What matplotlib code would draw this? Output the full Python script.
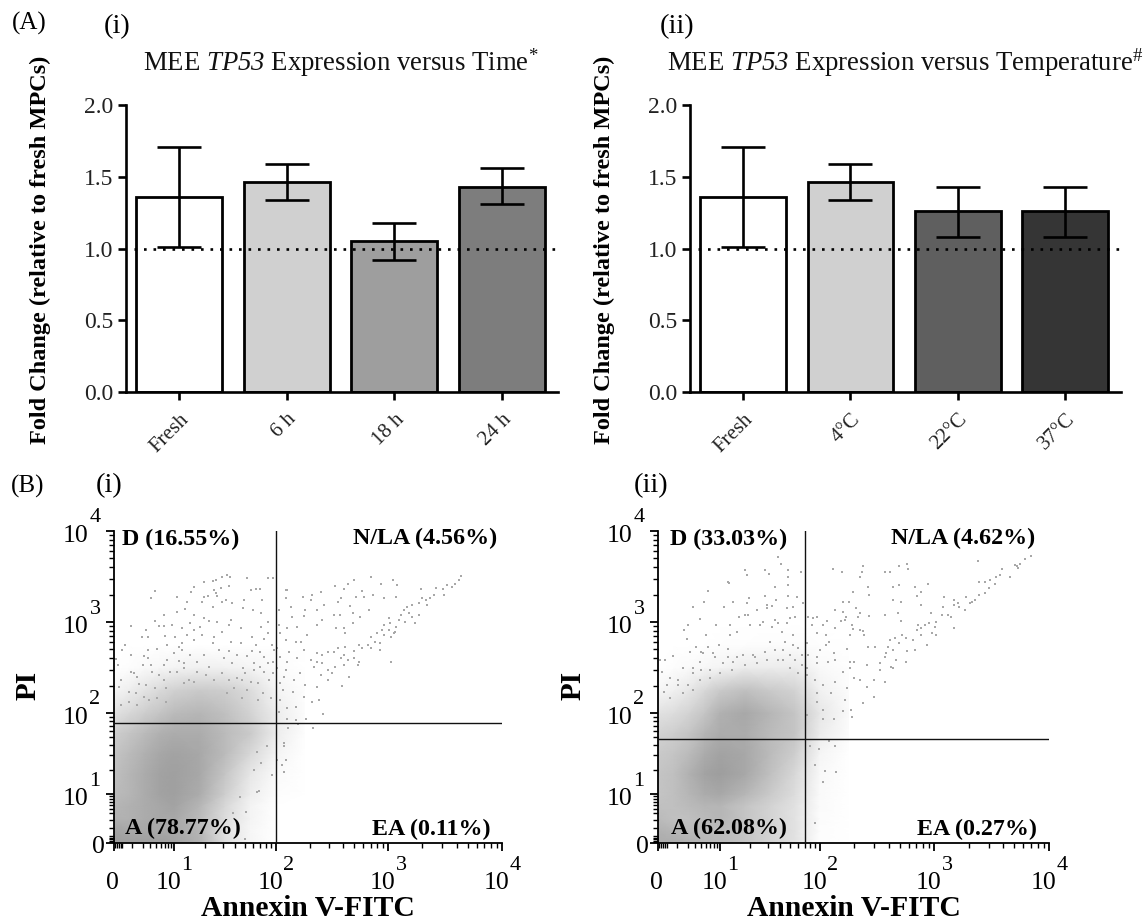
import numpy as np
import matplotlib
matplotlib.use('Agg')
import matplotlib.pyplot as plt
from matplotlib.colors import LinearSegmentedColormap

plt.rcParams['font.family'] = ['Liberation Serif', 'DejaVu Serif']
plt.rcParams['mathtext.fontset'] = 'custom'
plt.rcParams['mathtext.rm'] = 'Liberation Serif'
plt.rcParams['mathtext.it'] = 'Liberation Serif:italic'
plt.rcParams['mathtext.cal'] = 'Liberation Serif:italic'

time_labels = ['Fresh', '6 h', '18 h', '24 h']
time_means = [1.36, 1.46, 1.05, 1.43]
time_low = [1.01, 1.34, 0.92, 1.31]
time_high = [1.71, 1.59, 1.18, 1.56]
time_colors = ['#ffffff', '#d0d0d0', '#9e9e9e', '#7d7d7d']

temp_labels = ['Fresh', '4°C', '22°C', '37°C']
temp_means = [1.36, 1.46, 1.26, 1.26]
temp_low = [1.01, 1.34, 1.08, 1.08]
temp_high = [1.71, 1.59, 1.43, 1.43]
temp_colors = ['#ffffff', '#d0d0d0', '#5f5f5f', '#353535']

# flow plots: values are log10 of intensity
grid_x = [0, .25, .5, .75, 1, 1.25, 1.5, 1.75, 2, 2.25]
grid_y = [0, .25, .5, .75, 1, 1.25, 1.5, 1.75, 2, 2.25, 2.5, 2.75, 3]

# estimated share of each spot covered by dots, where they are too many to read one by one
cover_i = [
    [1, 1, 1, 1, .95, .8, .35, .1, 0, 0],
    [.95, .9, .9, .9, .9, .75, .3, .08, 0, 0],
    [.8, .8, .85, .9, .9, .7, .35, .12, 0, 0],
    [.75, .8, .85, .9, .95, .75, .4, .12, 0, 0],
    [.7, .75, .85, .95, .98, .85, .5, .18, .02, 0],
    [.65, .75, .85, .95, .98, .9, .6, .25, .05, 0],
    [.6, .7, .8, .9, .95, .9, .7, .4, .12, 0],
    [.5, .6, .7, .8, .85, .85, .7, .55, .2, .02],
    [.3, .4, .5, .6, .7, .75, .65, .45, .2, .03],
    [.1, .18, .28, .38, .48, .55, .5, .36, .12, .02],
    [0, .02, .05, .08, .12, .16, .15, .12, .04, 0],
    [0, 0, 0, 0, 0, 0, 0, 0, 0, 0],
    [0, 0, 0, 0, 0, 0, 0, 0, 0, 0],
]
cover_ii = [
    [.85, .85, .8, .75, .7, .6, .45, .3, .02, 0],
    [.8, .75, .7, .7, .7, .6, .45, .3, .02, 0],
    [.7, .65, .65, .7, .75, .6, .45, .3, .03, 0],
    [.65, .65, .7, .75, .75, .6, .45, .3, .04, 0],
    [.6, .65, .75, .85, .9, .75, .55, .35, .05, 0],
    [.6, .65, .8, .95, 1, .9, .65, .4, .06, 0],
    [.55, .6, .7, .85, .95, .9, .7, .5, .1, 0],
    [.45, .5, .6, .75, .85, .85, .7, .6, .2, .03],
    [.3, .35, .45, .6, .8, .9, .75, .6, .25, .05],
    [.08, .15, .25, .4, .55, .65, .55, .45, .15, .03],
    [0, .02, .05, .08, .12, .2, .2, .2, .06, .01],
    [0, 0, 0, 0, .01, .02, .03, .03, .01, 0],
    [0, 0, 0, 0, 0, 0, 0, 0, 0, 0],
]

# single dots of the sparse part
dots_i = [
    (1.52,3.52),(1.55,3.49),(1.47,3.50),(1.41,3.46),(1.38,3.45),(1.29,3.44),(1.20,3.38),(1.17,3.33),(.69,3.34),(.62,3.26),
    (1.03,3.27),(1.39,3.35),(1.41,3.32),(1.46,3.37),(1.54,3.40),(1.72,3.48),(1.92,3.48),(1.97,3.48),(1.75,3.35),(1.80,3.36),
    (1.84,3.36),(1.69,3.24),(1.86,3.24),(1.51,3.24),(1.29,3.27),(1.33,3.29),(1.42,3.29),(1.27,3.22),(1.57,3.21),(1.47,3.22),
    (1.38,3.16),(1.13,3.22),(1.03,3.11),(1.11,3.14),(.83,3.08),(1.20,3.08),(1.29,3.04),(1.68,3.15),(1.77,3.13),(1.85,3.10),
    (1.56,3.02),(1.42,3.0),(1.34,3.01),(1.16,2.99),(.96,2.97),(.69,3.01),(.29,2.96),(.75,2.96),(.83,2.96),(1.85,2.95),
    (1.92,3.0),(1.54,2.97),(1.66,2.93),(1.25,2.95),(.53,2.91),(1.08,2.93),(1.20,2.91),(1.47,2.89),(.47,2.84),(.56,2.84),
    (.85,2.85),(1.01,2.84),(1.13,2.86),(1.27,2.86),(1.39,2.84),(1.76,2.83),(1.92,2.88),(1.88,2.81),(1.08,2.77),(1.2,2.80),
    (1.56,2.78),(1.66,2.77),(.19,2.75),(.89,2.75),(1.05,2.73),(1.38,2.77),(1.80,2.75),(1.96,2.75),(.14,2.69),(.56,2.69),
    (.72,2.70),(1.08,2.69),(1.29,2.64),(1.44,2.69),(1.54,2.68),(1.76,2.68),(1.84,2.67),(1.98,2.69),(.29,2.64),(.5,2.63),
    (1.0,2.66),(1.16,2.64),(1.62,2.64),(1.72,2.63),(1.88,2.62),(.03,2.59),(.56,2.6),(.89,2.58),(1.05,2.57),(1.34,2.51),
    (1.49,2.6),(1.78,2.55),(1.92,2.55),(1.97,2.56),(.06,2.53),(.49,2.53),(.61,2.53),(.83,2.53),(1.1,2.55),(1.23,2.56),
    (1.57,2.55),(1.68,2.49),(1.84,2.51),
    (.33,2.44),(.28,2.45),(.39,2.4),(.11,2.36),(.08,2.29),(.42,2.32),(.53,2.31),(.64,2.45),(.75,2.42),(.83,2.36),
    (.69,2.27),(.86,2.27),(.25,2.23),(.36,2.22),(.5,2.18),(.58,2.14),(.11,2.09),(.25,2.12),(.39,2.09),(.94,2.45),
    (1.03,2.45),(1.1,2.49),(1.15,2.36),(1.23,2.45),(1.31,2.42),(1.39,2.36),(1.47,2.44),(1.54,2.36),(1.62,2.38),(1.67,2.36),
    (1.75,2.34),(1.82,2.33),(1.93,2.36),(1.88,2.45),(1.78,2.47),(1.7,2.44),(1.97,2.44),(1.59,2.27),(1.72,2.25),(1.87,2.22),
    (1.95,2.16),(1.82,2.14),(1.67,2.16),(1.52,2.22),(1.1,2.33),(1.2,2.34),(.72,2.16),(.86,2.12),
    (3.64,3.51),(3.62,3.46),(3.59,3.42),(3.56,3.39),(3.52,3.41),(3.48,3.36),(3.49,3.30),(3.42,3.37),(3.40,3.30),(3.37,3.26),
    (3.33,3.24),(3.30,3.26),(3.34,3.19),(3.27,3.21),(3.21,3.19),(3.17,3.17),(3.14,3.13),(3.18,3.10),(3.11,3.08),(3.10,3.02),
    (3.15,3.0),(3.24,2.99),(3.21,3.06),(3.27,3.08),(3.01,3.04),(2.96,2.97),(3.02,2.99),(3.07,2.95),(2.95,2.91),(3.01,2.91),
    (2.90,2.88),(2.85,2.84),(2.96,2.86),(3.05,2.88),(3.06,2.89),(3.03,2.84),(2.88,2.78),(2.93,2.77),(2.82,2.75),(2.74,2.75),
    (2.77,2.71),(2.70,2.68),(2.62,2.73),(2.55,2.71),(2.52,2.67),(2.61,2.64),(2.70,2.6),(2.74,2.56),(2.64,2.58),(2.58,2.6),
    (2.53,2.51),(2.46,2.47),(2.50,2.44),(2.61,2.53),(2.85,2.71),(2.93,2.69),(2.73,2.53),(3.03,2.56),(2.65,2.4),(2.41,2.55),
    (2.37,2.56),(2.85,3.5),(2.70,3.46),(3.04,3.46),(2.53,3.4),(2.64,3.42),(2.94,3.42),(3.08,3.41),(3.29,3.36),(2.61,3.36),
    (2.77,3.34),(2.40,3.33),(2.32,3.30),(2.09,3.35),(2.10,3.35),(2.87,3.30),(2.24,3.27),(2.58,3.26),(2.71,3.27),(2.79,3.27),
    (2.96,3.26),(3.07,3.27),(2.09,3.26),(2.31,3.24),(2.55,3.22),(2.66,3.18),(2.43,3.19),(2.13,3.17),(2.03,3.13),(2.26,3.13),
    (2.83,3.13),(2.37,3.13),(2.52,3.08),(2.57,3.08),(2.69,3.1),(2.14,3.05),(2.25,3.07),(2.41,3.02),(2.75,3.06),(2.03,2.97),
    (2.10,2.93),(2.19,2.95),(2.37,2.97),(2.69,2.99),(2.54,2.93),(2.61,2.93),(2.04,2.88),(2.28,2.86),(2.62,2.88),(2.09,2.8),
    (2.18,2.78),(2.22,2.78),(2.01,2.71),(2.25,2.69),(2.12,2.67),(2.37,2.66),(2.46,2.67),(2.04,2.62),(2.19,2.6),(2.41,2.64),
    (2.10,2.56),(2.31,2.58),(2.01,2.49),(2.09,2.47),(2.34,2.51),(2.21,2.44),(2.07,2.4),(2.40,2.42),(2.16,2.36),(2.04,2.33),
    (2.26,2.31),(2.37,2.29),(2.06,2.25),(2.15,2.23),(2.59,2.3),(2.46,2.36),(2.25,2.18),(2.38,2.14),(2.32,2.12),(2.18,2.07),
    (2.04,2.14),(2.10,2.05),(2.27,1.93),(2.42,1.99),(2.10,1.92),(2.18,1.91),(2.03,2.01),(2.07,1.63),(2.07,1.59),(2.01,1.42),
    (2.09,1.42),(2.05,1.36),(2.07,1.27),(2.11,1.81),(2.20,1.86),(2.33,1.81),
    (1.81,1.03),(1.83,1.04),(1.65,.93),(1.71,.64),(1.58,.61),(1.70,.09),(1.96,1.24),(1.85,1.38),(1.91,1.59),(1.81,1.52),(1.78,1.30),
]
dots_ii = [
    (3.84,3.73),(3.79,3.69),(3.75,3.64),(3.72,3.61),(3.70,3.63),(3.73,3.59),(3.66,3.5),(3.59,3.58),(3.57,3.52),(3.54,3.5),
    (3.53,3.42),(3.49,3.46),(3.44,3.44),(3.39,3.44),(3.44,3.32),(3.48,3.37),(3.39,3.30),(3.36,3.24),(3.31,3.21),(3.28,3.28),
    (3.33,3.22),(3.27,3.13),(3.21,3.21),(3.22,3.17),(3.17,3.24),(3.17,3.19),(3.08,3.17),(3.12,3.08),(3.15,3.06),(3.07,3.08),
    (3.17,2.93),(3.02,3.0),(3.01,2.95),(2.96,2.99),(2.92,2.97),(2.98,2.88),(3.02,2.86),(2.89,2.93),(2.86,2.97),(2.85,2.91),
    (2.89,2.86),(2.82,2.8),(2.75,2.82),(2.72,2.86),(2.66,2.82),(2.61,2.8),(2.69,2.77),(2.60,2.73),(2.58,2.66),(2.64,2.69),
    (2.76,2.68),(2.83,2.69),(2.57,2.62),(2.94,2.75),(2.75,2.56),(2.64,2.49),(2.67,2.58),(2.53,2.55),(2.62,2.51),(2.48,2.73),
    (2.42,2.73),(2.41,2.53),(2.53,2.47),(2.57,2.34),(2.47,2.36),(2.41,2.29),(2.47,2.18),(2.38,2.11),
    (3.38,3.67),(2.11,3.58),(2.38,3.62),(2.37,3.55),(2.35,3.5),(2.19,3.55),(2.57,3.55),(2.61,3.55),(2.69,3.62),(2.76,3.64),
    (2.77,3.58),(2.95,3.42),(2.69,3.41),(2.64,3.38),(2.83,3.38),(2.42,3.38),(2.29,3.33),(2.43,3.3),(2.89,3.33),(2.85,3.29),
    (3.09,3.27),(2.64,3.24),(2.71,3.22),(2.89,3.19),(2.20,3.22),(2.25,3.22),(2.32,3.15),(2.13,3.13),(2.20,3.11),(2.35,3.1),
    (2.33,3.06),(2.43,3.07),(2.57,3.08),(2.68,3.1),(2.97,3.1),(2.23,3.06),(1.93,3.04),(1.88,3.06),(1.97,3.06),(2.06,3.01),
    (2.18,3.01),(2.22,3.02),(1.92,2.97),(2.13,2.93),(2.28,2.97),(2.71,3.01),(2.03,2.97),(2.29,2.92),(2.35,2.91),(2.38,2.9),
    (1.97,2.88),(2.05,2.86),(2.26,2.86),(2.39,2.86),(2.08,2.78),(2.05,2.75),(1.87,2.77),(2,2.69),(2.12,2.66),(2.24,2.7),
    (1.88,2.64),(1.97,2.62),(2.13,2.58),(2.26,2.56),(2.3,2.56),(1.97,2.55),(2.07,2.56),(2.2,2.45),(1.87,2.49),(2.26,2.49),
    (2.3,2.38),(2.35,2.36),(1.95,2.36),(2.13,2.34),(1.87,2.42),(2.24,2.27),(2.03,2.31),(1.97,2.22),(2.1,2.22),(2.22,2.14),
    (1.97,2.12),(2.27,2.03),(2.2,2.02),(2.03,2.03),(2.28,1.95),(1.87,1.98),(2.03,1.92),(2.12,1.92),
    (1.58,3.71),(1.61,3.64),(1.45,3.57),(1.49,3.53),(1.68,3.57),(1.25,3.57),(1.27,3.52),(1.81,3.55),(1.68,3.49),(1.68,3.41),
    (1.08,3.44),(1.09,3.43),(1.55,3.38),(.81,3.34),(1.45,3.29),(1.68,3.29),(1.77,3.28),(1.29,3.26),(1.56,3.24),(.74,3.22),
    (1.13,3.22),(1.27,3.21),(1.47,3.19),(1.52,3.18),(1.83,3.21),(.56,3.17),(1.04,3.16),(1.37,3.13),(1.47,3.15),(1.67,3.15),
    (1.73,3.17),(1.28,3.08),(1.25,3.08),(.68,3.03),(1.19,3.05),(1.55,3.02),(1.7,3.04),(1.75,3.05),(.49,2.97),(.94,2.97),
    (1.1,2.97),(1.43,3.0),(1.4,2.97),(1.58,2.99),(1.67,2.99),(.42,2.91),(1.1,2.86),(1.17,2.89),(1.3,2.97),(1.52,2.95),
    (1.62,2.89),(1.73,2.86),(.78,2.86),(.47,2.81),(1.5,2.78),(1.65,2.78),(.61,2.73),(.81,2.73),(.98,2.75),(1.08,2.7),
    (.7,2.67),(.89,2.66),(.52,2.67),(.24,2.63),(1.35,2.62),(1.23,2.64),(.03,2.58),(.11,2.58),(.68,2.56),(1.13,2.56),
    (.41,2.49),(.57,2.5),(.7,2.47),(.06,2.45),(.19,2.38),(.33,2.36),
    (.73,2.66),(.92,2.62),(1.08,2.62),(1.17,2.62),(1.33,2.64),(1.45,2.67),(1.55,2.69),(1.63,2.69),(1.73,2.75),(1.78,2.71),
    (1.7,2.64),(1.82,2.64),(1.58,2.58),(1.47,2.58),(1.37,2.55),(1.25,2.53),(1.03,2.55),(.84,2.47),(1,2.44),(1.12,2.47),
    (.57,2.44),(.49,2.31),(.33,2.31),(.68,2.36),(.84,2.38),(.14,2.31),(.09,2.23),(.41,2.22),(.19,2.16),(.57,2.25),
    (1.63,2.58),(1.75,2.58),(1.82,2.53),(1.7,2.49),(1.78,2.44),
    (1.90,1.59),(1.99,1.55),(2.08,1.65),(2.13,1.59),(1.95,1.36),(2.04,1.28),(2.14,1.27),(2.03,1.15),(1.95,.4),
]

gate_x = [2.0, 1.85]
gate_y = [1.876, 1.68]
quadrant_labels_i = ['D (16.55%)', 'N/LA (4.56%)', 'A (78.77%)', 'EA (0.11%)']
quadrant_labels_ii = ['D (33.03%)', 'N/LA (4.62%)', 'A (62.08%)', 'EA (0.27%)']

W, H = 1146, 924
fig = plt.figure(figsize=(W / 100, H / 100), dpi=100)
dot_cmap = LinearSegmentedColormap.from_list('dots', ['#ffffff', '#9e9e9e'])


def px_axes(left, top, right, bottom):
    return fig.add_axes([left / W, 1 - bottom / H, (right - left) / W, (bottom - top) / H])


def px_text(x, y, s, **kw):
    kw.setdefault('ha', 'center')
    kw.setdefault('va', 'center')
    fig.text(x / W, 1 - y / H, s, **kw)


def bar_panel(box, labels, means, low, high, colors, title, title_x, ylabel_x):
    ax = px_axes(*box)
    x = np.arange(len(labels))
    yerr = [np.array(means) - np.array(low), np.array(high) - np.array(means)]
    ax.bar(x, means, width=0.8, color=colors, edgecolor='black', linewidth=2)
    ax.errorbar(x, means, yerr=yerr, fmt='none', ecolor='black', elinewidth=1.9,
                capsize=15.5, capthick=1.9, zorder=5)
    ax.plot([-0.42, 3.52], [1, 1], color='black', linestyle=(0, (1, 2.6)), linewidth=1.9, zorder=6, clip_on=False)
    ax.set_xlim(-0.495, 3.52)
    ax.set_ylim(0, 2)
    ax.set_yticks([0, 0.5, 1, 1.5, 2])
    ax.set_yticklabels(['0.0', '0.5', '1.0', '1.5', '2.0'], fontsize=17, color='#222222')
    ax.set_xticks(x)
    ax.set_xticklabels(labels, fontsize=15, rotation=45, ha='right', rotation_mode='anchor', color='#222222')
    ax.tick_params(axis='both', width=1.9, length=6, pad=3)
    ax.tick_params(axis='x', pad=7)
    for side in ['top', 'right']:
        ax.spines[side].set_visible(False)
    for side in ['left', 'bottom']:
        ax.spines[side].set_linewidth(1.9)
    px_text(title_x, 63, title, fontsize=19.3, ha='left', color='#111111')
    px_text(ylabel_x, 250, 'Fold Change (relative to fresh MPCs)', fontsize=17.5, fontweight='bold', rotation=90)


def flow_panel(box, pos, cover, dots, gx, gy, qlabels, qpos, ylabel_x, xlabel_x):
    left, top, right, bottom = box
    ax = px_axes(*box)
    decades = [0, 1, 2, 3, 4]
    ypos = [0, 49, 130, 221, 312]
    ax.set_xscale('function', functions=(lambda v: np.interp(v, decades, pos), lambda p: np.interp(p, pos, decades)))
    ax.set_yscale('function', functions=(lambda v: np.interp(v, decades, ypos), lambda p: np.interp(p, ypos, decades)))
    ax.pcolormesh(grid_x, grid_y, cover, cmap=dot_cmap, vmin=0, vmax=1, shading='gouraud', zorder=1)
    ax.scatter([d[0] for d in dots], [d[1] for d in dots], s=3.2, marker='s', color='#a8a8a8', linewidths=0, zorder=2)
    ax.plot([gx, gx], [0, 4], color='#111111', linewidth=1.0, zorder=3)
    ax.plot([0, 4], [gy, gy], color='#111111', linewidth=1.0, zorder=3)
    ax.set_xlim(0, 4)
    ax.set_ylim(0, 4)
    minor = [d + np.log10(n) for d in decades[:-1] for n in range(2, 10)]
    blob = [0.02, 0.05, 0.08, 0.11, 0.14]
    for axis in [ax.xaxis, ax.yaxis]:
        axis.set_ticks(decades)
        axis.set_ticks(minor + blob, minor=True)
        axis.set_ticklabels([])
    ax.tick_params(axis='both', which='major', width=1.3, length=6)
    ax.tick_params(axis='both', which='minor', width=1.0, length=3.5)
    for side in ['top', 'right']:
        ax.spines[side].set_visible(False)
    for side in ['left', 'bottom']:
        ax.spines[side].set_linewidth(1.3)
    # tick labels: the exponents sit apart from the 10 as in the figure
    for d, p in zip(decades, pos):
        if d == 0:
            px_text(left - 2, bottom + 40, '0', fontsize=18.5)
        else:
            px_text(left + p - 5, bottom + 40, '10', fontsize=18.5)
            px_text(left + p + 13, bottom + 22, str(d), fontsize=16)
    for d, p in zip(decades, ypos):
        if d == 0:
            px_text(left - 16, bottom + 4, '0', fontsize=18.5)
        else:
            px_text(left - 26, bottom - p + 5, '10', fontsize=18.5, ha='right')
            px_text(left - 19, bottom - p - 13, str(d), fontsize=16)
    for s, (qx, qy) in zip(qlabels, qpos):
        px_text(qx, qy, s, fontsize=17.3, fontweight='bold', zorder=10)
    px_text(ylabel_x, 685, 'PI', fontsize=21, fontweight='bold', rotation=90)
    px_text(xlabel_x, 908, 'Annexin V-FITC', fontsize=21.3, fontweight='bold')


bar_panel((126, 105, 558, 392), time_labels, time_means, time_low, time_high, time_colors,
          r'MEE $\mathcal{TP53}$ Expression versus Time$^{*}$', 143, 40)
bar_panel((690, 105, 1121, 392), temp_labels, temp_means, temp_low, temp_high, temp_colors,
          r'MEE $\mathcal{TP53}$ Expression versus Temperature$^{\#}$', 667, 604)

flow_panel((114, 531, 502, 843), [0, 60, 162, 274, 388], cover_i, dots_i, gate_x[0], gate_y[0], quadrant_labels_i,
           [(181, 539), (425, 538), (183, 828), (431, 829)], 28, 308)
flow_panel((658, 531, 1049, 843), [0, 62, 162, 276, 391], cover_ii, dots_ii, gate_x[1], gate_y[1], quadrant_labels_ii,
           [(729, 539), (963, 538), (729, 828), (977, 829)], 573, 854)

px_text(29, 23, '(A)', fontsize=18)
px_text(117, 27, '(i)', fontsize=20.5)
px_text(677, 27, '(ii)', fontsize=20.5)
px_text(28, 486, '(B)', fontsize=18)
px_text(109, 486, '(i)', fontsize=20.5)
px_text(651, 486, '(ii)', fontsize=20.5)

fig.savefig('out.png', dpi=100)
